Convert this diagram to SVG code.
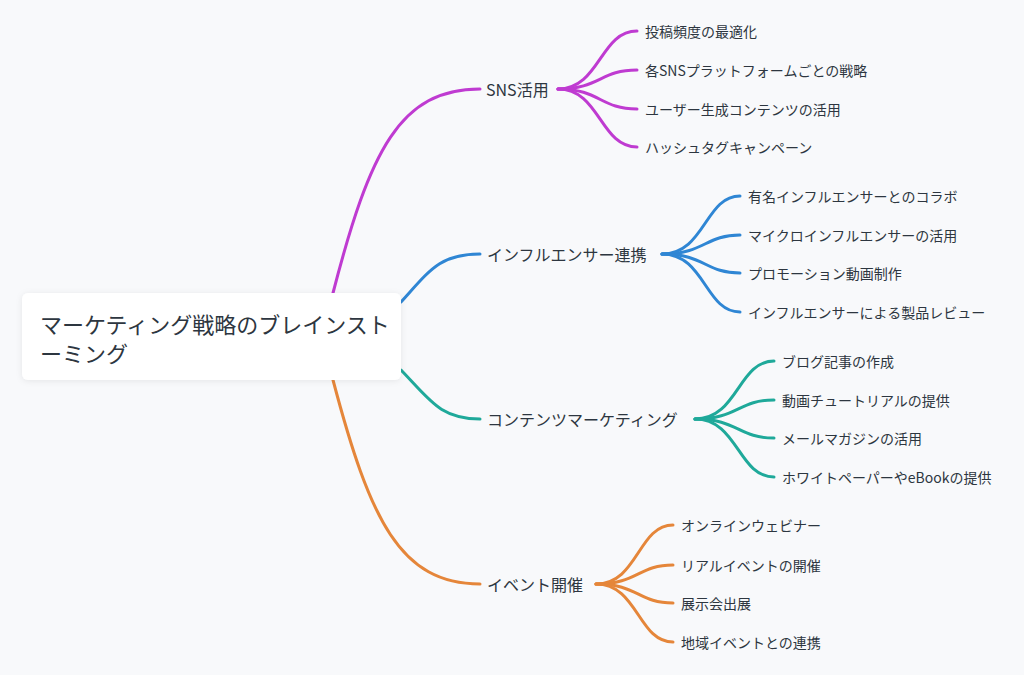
<svg xmlns="http://www.w3.org/2000/svg" width="1024" height="675" viewBox="0 0 1024 675">
<defs>
<style>
text{font-family:"Noto Sans CJK JP","Noto Sans",sans-serif;fill:#2d3640;dominant-baseline:central}
.b{font-size:16px}.c{font-size:14px}.r{font-size:22px}
path{fill:none;stroke-width:3;stroke-linecap:round}
.p{stroke:#bf3bd1}.u{stroke:#2f86d4}.t{stroke:#1fa99a}.o{stroke:#e5863a}
</style>
<filter id="sh" x="-10%" y="-20%" width="120%" height="140%"><feDropShadow dx="0" dy="1" stdDeviation="3" flood-color="#000" flood-opacity="0.08"/></filter>
</defs>
<rect width="1024" height="675" fill="#f8f9fb"/>
<g id="connectors">
<path class="p" d="M333 293 C370 150 400 89 480 89"/>
<path class="u" d="M401 302 C430 270 440 254 480 254"/>
<path class="t" d="M401 370 C430 400 440 419 480 419"/>
<path class="o" d="M333 380 C370 520 400 584 480 584"/>
<path class="p" d="M558 89 C600 89 600 31 637 31"/><path class="p" d="M558 89 C600 89 600 70 637 70"/><path class="p" d="M558 89 C600 89 600 109 637 109"/><path class="p" d="M558 89 C600 89 600 147 637 147"/>
<path class="u" d="M662 254 C705 254 705 196 740 196"/><path class="u" d="M662 254 C705 254 705 235 740 235"/><path class="u" d="M662 254 C705 254 705 273 740 273"/><path class="u" d="M662 254 C705 254 705 312 740 312"/>
<path class="t" d="M695 419 C738 419 738 361 774 361"/><path class="t" d="M695 419 C738 419 738 400 774 400"/><path class="t" d="M695 419 C738 419 738 438 774 438"/><path class="t" d="M695 419 C738 419 738 477 774 477"/>
<path class="o" d="M596 584 C638 584 638 525 673 525"/><path class="o" d="M596 584 C638 584 638 565 673 565"/><path class="o" d="M596 584 C638 584 638 603 673 603"/><path class="o" d="M596 584 C638 584 638 642 673 642"/>
</g>
<g id="root"><rect x="22" y="293" width="379" height="87" rx="6" fill="#fff" filter="url(#sh)"/>
<text class="r" x="40" y="323">マーケティング戦略のブレインスト</text><text class="r" x="40" y="352">ーミング</text></g>
<g id="sns"><text class="b" x="486" y="89">SNS活用</text>
<text class="c" x="645" y="31">投稿頻度の最適化</text><text class="c" x="645" y="70">各SNSプラットフォームごとの戦略</text><text class="c" x="645" y="109">ユーザー生成コンテンツの活用</text><text class="c" x="645" y="147">ハッシュタグキャンペーン</text></g>
<g id="influencer"><text class="b" x="487" y="254">インフルエンサー連携</text>
<text class="c" x="748" y="196">有名インフルエンサーとのコラボ</text><text class="c" x="748" y="235">マイクロインフルエンサーの活用</text><text class="c" x="748" y="273">プロモーション動画制作</text><text class="c" x="748" y="312">インフルエンサーによる製品レビュー</text></g>
<g id="content"><text class="b" x="487" y="419">コンテンツマーケティング</text>
<text class="c" x="782" y="361">ブログ記事の作成</text><text class="c" x="782" y="400">動画チュートリアルの提供</text><text class="c" x="782" y="438">メールマガジンの活用</text><text class="c" x="782" y="477">ホワイトペーパーやeBookの提供</text></g>
<g id="event"><text class="b" x="487" y="584">イベント開催</text>
<text class="c" x="681" y="525">オンラインウェビナー</text><text class="c" x="681" y="565">リアルイベントの開催</text><text class="c" x="681" y="603">展示会出展</text><text class="c" x="681" y="642">地域イベントとの連携</text></g>
</svg>
